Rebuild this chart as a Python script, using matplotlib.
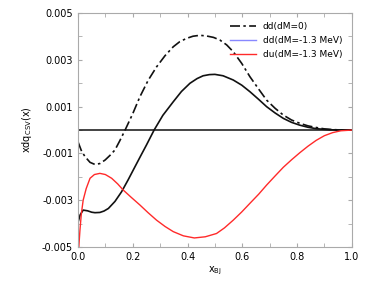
import matplotlib
matplotlib.use("Agg")
import matplotlib.pyplot as plt
from matplotlib.lines import Line2D
from matplotlib.ticker import MultipleLocator, FormatStrFormatter

# dd(dM=0), dash-dot
x_dd0 = [0.0, 0.013, 0.026, 0.044, 0.062, 0.08, 0.099, 0.117, 0.135, 0.153,
         0.172, 0.2, 0.226, 0.256, 0.287, 0.318, 0.348, 0.372, 0.397, 0.42,
         0.445, 0.47, 0.495, 0.518, 0.543, 0.567, 0.598, 0.628, 0.66, 0.689,
         0.72, 0.75, 0.78, 0.81, 0.84, 0.87, 0.9, 0.93, 0.96, 1.0]
y_dd0 = [-0.0005, -0.0009, -0.00114, -0.00138, -0.00147, -0.00143, -0.00128,
         -0.00108, -0.00085, -0.00045, 0.0, 0.0007, 0.00142, 0.00212, 0.0027,
         0.00318, 0.00356, 0.00378, 0.00392, 0.00401, 0.00405, 0.00402, 0.00396,
         0.00385, 0.00364, 0.00335, 0.00285, 0.00228, 0.00175, 0.00128, 0.00093,
         0.00064, 0.00043, 0.00029, 0.00018, 0.00011, 0.00005, 0.00002,
         0.000005, 0.0]

# dd(dM=-1.3 MeV), drawn black in the figure
x_dd = [0.0, 0.008, 0.019, 0.035, 0.05, 0.062, 0.08, 0.095, 0.111, 0.135,
        0.159, 0.183, 0.208, 0.23, 0.25, 0.278, 0.31, 0.348, 0.378, 0.409,
        0.435, 0.457, 0.48, 0.5, 0.53, 0.567, 0.598, 0.628, 0.66, 0.689,
        0.72, 0.75, 0.78, 0.81, 0.84, 0.87, 0.9, 0.93, 1.0]
y_dd = [-0.00395, -0.00362, -0.00342, -0.00345, -0.00351, -0.00353, -0.00352,
        -0.00346, -0.00335, -0.00305, -0.00264, -0.00213, -0.00157, -0.00108,
        -0.00064, 0.0, 0.00063, 0.00121, 0.00165, 0.002, 0.0022, 0.00232,
        0.00237, 0.00238, 0.00232, 0.00214, 0.00192, 0.00164, 0.00131, 0.001,
        0.00073, 0.0005, 0.00033, 0.00021, 0.00012, 0.00006, 0.00003, 0.00001, 0.0]

# du(dM=-1.3 MeV)
x_du = [0.003, 0.007, 0.012, 0.019, 0.03, 0.044, 0.06, 0.08, 0.1, 0.123,
        0.145, 0.165, 0.195, 0.226, 0.256, 0.287, 0.318, 0.348, 0.385, 0.425,
        0.465, 0.506, 0.535, 0.567, 0.598, 0.628, 0.66, 0.689, 0.72, 0.75,
        0.78, 0.81, 0.84, 0.87, 0.9, 0.93, 0.96, 1.0]
y_du = [-0.005, -0.0043, -0.0036, -0.00299, -0.0025, -0.00206, -0.0019, -0.00185,
        -0.0019, -0.00206, -0.0023, -0.00256, -0.00288, -0.0032, -0.00353,
        -0.00385, -0.00412, -0.00434, -0.00452, -0.00461, -0.00456, -0.00442,
        -0.00418, -0.00385, -0.0035, -0.00313, -0.00274, -0.00235, -0.00196,
        -0.00159, -0.00127, -0.00097, -0.00069, -0.00044, -0.00024, -0.00011,
        -0.00003, 0.0]

labels = ["dd(dM=0)", "dd(dM=-1.3 MeV)", "du(dM=-1.3 MeV)"]
yticks = [-0.005, -0.003, -0.001, 0.001, 0.003, 0.005]

dashdot = (0, (6, 2, 1.5, 2))

fig = plt.figure(figsize=(3.67, 2.84), dpi=100)
ax = fig.add_axes([0.2125, 0.13, 0.746, 0.824])

ax.axhline(0, color="#222222", lw=1.2)
ax.plot(x_dd0, y_dd0, color="#111111", lw=1.2, ls=dashdot)
ax.plot(x_dd, y_dd, color="#111111", lw=1.2)
ax.plot(x_du, y_du, color="#ff2a2a", lw=1.0)

ax.set_xlim(0, 1)
ax.set_ylim(-0.005, 0.005)
ax.set_yticks(yticks)
ax.set_yticklabels([f"{v:.3f}" for v in yticks])
ax.xaxis.set_major_locator(MultipleLocator(0.2))
ax.xaxis.set_minor_locator(MultipleLocator(0.1))
ax.yaxis.set_minor_locator(MultipleLocator(0.001))
ax.xaxis.set_major_formatter(FormatStrFormatter("%.1f"))
ax.tick_params(which="both", direction="in", top=True, right=True,
               color="#aaaaaa", labelsize=7, length=3)
for s in ax.spines.values():
    s.set_color("#aaaaaa")
    s.set_linewidth(0.8)

ax.set_xlabel(r"x$_{\mathregular{Bj}}$", fontsize=7, labelpad=2)
ax.set_ylabel(r"xdq$_{\mathregular{CSV}}$(x)", fontsize=7, labelpad=6)

handles = [
    Line2D([], [], color="#111111", lw=1.2, ls=dashdot),
    Line2D([], [], color="#8888ff", lw=1.0),
    Line2D([], [], color="#ff2a2a", lw=1.0),
]
ax.legend(handles, labels, loc="upper right", frameon=False, fontsize=6.5,
          handlelength=2.8, handletextpad=0.8, labelspacing=0.55,
          borderaxespad=0.2, bbox_to_anchor=(0.985, 0.985))

fig.savefig("out.png", dpi=100)
